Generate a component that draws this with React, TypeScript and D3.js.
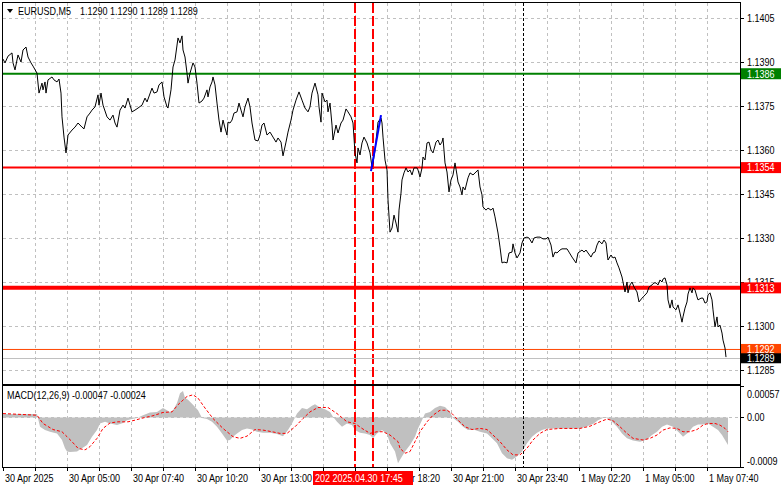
import * as d3 from "d3";

// EURUSD M5 close prices, [bar number, price], bar 0 = 30 Apr 02:20
const closes: [number, number][] = [
  [0, 1.1391], [1, 1.13897], [2.5, 1.1392], [4.5, 1.13931], [5, 1.13897], [6, 1.13873],
  [7.5, 1.13924], [9, 1.139], [10, 1.13941], [11.5, 1.13951], [12.5, 1.13917], [14, 1.13897],
  [15, 1.13886], [17, 1.13862], [18, 1.13794], [19.5, 1.13828], [20, 1.13805], [21, 1.13832],
  [21.5, 1.13794], [22.5, 1.13839], [24.5, 1.13849], [25.5, 1.13839], [27, 1.13832], [28, 1.13842],
  [29, 1.13794], [29.5, 1.13713], [30.5, 1.13644], [31.5, 1.1359], [32.5, 1.13651], [34.5, 1.13668],
  [36, 1.13678], [37.5, 1.13692], [39.5, 1.13678], [40.5, 1.13672], [42, 1.13713], [43.5, 1.13726],
  [44.5, 1.13736], [46, 1.13747], [47.5, 1.13788], [48, 1.13753], [49, 1.13794], [50, 1.13753],
  [52, 1.13713], [53.5, 1.13702], [55, 1.13719], [56, 1.13692], [57, 1.13678], [58.5, 1.13736],
  [60, 1.13753], [61, 1.13743], [62.5, 1.13777], [63.5, 1.13753], [64.5, 1.1373], [66, 1.13736],
  [67.5, 1.13743], [69.5, 1.13753], [71, 1.13777], [72, 1.13764], [74.5, 1.13811], [75.5, 1.13794],
  [77, 1.13798], [78, 1.13822], [79.5, 1.13832], [80.5, 1.13781], [82, 1.13747], [82.5, 1.13743],
  [84, 1.13805], [85, 1.13883], [86, 1.13907], [87.5, 1.13982], [88.5, 1.13965], [89.5, 1.13989],
  [90, 1.13941], [91, 1.13917], [92, 1.13862], [92.5, 1.13828], [93.5, 1.13862], [95, 1.13897],
  [96, 1.13883], [97, 1.13828], [98, 1.1376], [99.5, 1.13767], [100.5, 1.13777], [102, 1.13805],
  [102.5, 1.13781], [103.5, 1.13815], [104.5, 1.13832], [105, 1.13849], [106, 1.13822], [107, 1.1376],
  [108, 1.13702], [109, 1.13661], [110, 1.13702], [111, 1.13675], [112, 1.13651], [112.5, 1.13695],
  [113.5, 1.13692], [114.5, 1.13702], [115.5, 1.13726], [117, 1.1373], [118, 1.1376], [119, 1.13736],
  [120, 1.13713], [121, 1.13747], [122.5, 1.13777], [123.5, 1.13747], [124.5, 1.13692], [126, 1.13634],
  [127.5, 1.13631], [128.5, 1.13651], [129.5, 1.13685], [130.5, 1.13692], [132, 1.13651], [133.5, 1.13661],
  [135, 1.13644], [136.5, 1.13627], [137.5, 1.13641], [139, 1.13627], [140, 1.1358], [141.5, 1.13627],
  [142.5, 1.13661], [144, 1.13702], [145, 1.13736], [146.5, 1.1377], [148, 1.13798], [149.5, 1.1377],
  [151, 1.13743], [152.5, 1.1373], [153.5, 1.13747], [154.5, 1.13794], [156, 1.13828], [157.5, 1.13788],
  [158, 1.13747], [159, 1.13695], [159.5, 1.13794], [161, 1.13764], [162, 1.1377], [162.5, 1.1373],
  [163.5, 1.1376], [164.5, 1.13685], [165, 1.13634], [166.5, 1.13685], [167.5, 1.13658], [169, 1.13692],
  [170, 1.13702], [171.5, 1.1374], [172.5, 1.1373], [174, 1.13713], [175, 1.13692], [176, 1.1359],
  [177, 1.13556], [177.5, 1.13607], [178.5, 1.13583], [179.5, 1.13624], [180.5, 1.13644], [182, 1.13624],
  [183.5, 1.1359], [184.5, 1.13542], [185, 1.13556], [186, 1.136], [187.5, 1.13695], [189, 1.13709],
  [189.5, 1.13692], [190, 1.13644], [191, 1.13566], [192, 1.13532], [192.5, 1.1343], [193.5, 1.1332],
  [194.5, 1.13334], [195.5, 1.13378], [196.5, 1.13351], [197.5, 1.1332], [198, 1.13395], [199, 1.13453],
  [199.5, 1.13498], [200.5, 1.13522], [201.5, 1.13539], [202.5, 1.13525], [203.5, 1.13532], [204.5, 1.13515],
  [205.5, 1.13539], [207, 1.13539], [207.5, 1.13532], [208.5, 1.13508], [209.5, 1.13539], [210, 1.13576],
  [211, 1.13566], [212, 1.13624], [213, 1.13627], [214, 1.136], [215, 1.1359], [216.5, 1.13627],
  [217.5, 1.13634], [218.5, 1.13617], [219.5, 1.13627], [220, 1.13641], [221, 1.13556], [222, 1.13525],
  [223, 1.13457], [224, 1.13498], [225, 1.13515], [226, 1.13556], [227, 1.13515], [227.5, 1.13491],
  [228.5, 1.13474], [229.5, 1.13447], [230, 1.13474], [231, 1.13464], [232.5, 1.13505], [233.5, 1.13522],
  [235, 1.13515], [236.5, 1.13525], [237.5, 1.13532], [238.5, 1.13474], [239.5, 1.13447], [240, 1.13406],
  [241.5, 1.13395], [242.5, 1.13402], [244, 1.13395], [245, 1.13402], [246, 1.13372], [247.5, 1.13317],
  [248.5, 1.13269], [249.5, 1.13215], [250.5, 1.13218], [252, 1.13215], [253, 1.13249], [254.5, 1.13252],
  [255, 1.1328], [256, 1.13249], [257, 1.13232], [258.5, 1.13249], [259.5, 1.13283], [260.5, 1.133],
  [262, 1.13303], [263, 1.133], [264.5, 1.13283], [265.5, 1.133], [267, 1.13303], [268.5, 1.13303],
  [270, 1.13297], [271.5, 1.13297], [272.5, 1.13303], [274, 1.13276], [275, 1.13235], [276, 1.13252],
  [277, 1.13249], [278.5, 1.13259], [279.5, 1.13263], [282, 1.13263], [283, 1.13252], [284.5, 1.13235],
  [285.5, 1.13225], [286.5, 1.13215], [287.5, 1.13249], [289.5, 1.13259], [290.5, 1.13252], [291.5, 1.13259],
  [292.5, 1.13249], [294, 1.13235], [295, 1.13249], [296, 1.13252], [297, 1.13276], [298, 1.1329],
  [299.5, 1.1328], [300.5, 1.13293], [301.5, 1.13283], [302, 1.13252], [302.5, 1.13225], [304, 1.13242],
  [305, 1.13232], [306, 1.13235], [307, 1.13215], [308, 1.13198], [309.5, 1.13167], [310, 1.1315],
  [311, 1.13116], [312, 1.1315], [312.5, 1.13113], [313.5, 1.1314], [314.5, 1.1315], [315.5, 1.13133],
  [317, 1.13116], [318, 1.13082], [319.5, 1.13095], [320.5, 1.13102], [322, 1.13113], [323, 1.13133],
  [324.5, 1.1314], [325.5, 1.13147], [326.5, 1.13147], [327.5, 1.1314], [328.5, 1.13157], [329.5, 1.1315],
  [330, 1.1316], [331, 1.13164], [332, 1.1314], [332.5, 1.13089], [333.5, 1.13061], [334.5, 1.13089],
  [335, 1.13065], [336.5, 1.13055], [337.5, 1.13072], [338.5, 1.13044], [339.5, 1.13013], [340, 1.13031],
  [341, 1.13061], [342, 1.13082], [342.5, 1.13109], [343.5, 1.1313], [344.5, 1.13113], [345, 1.1313],
  [346, 1.13123], [347, 1.13099], [347.5, 1.13089], [349, 1.13095], [350, 1.13095], [351, 1.13078],
  [352, 1.13082], [352.5, 1.13106], [353.5, 1.13113], [354.5, 1.13089], [355, 1.13055], [356, 1.12997],
  [357, 1.13031], [357.5, 1.12997], [358.5, 1.13003], [359.5, 1.12976], [360, 1.12952], [361, 1.12925],
  [361.5, 1.12894],
];

// MACD(12,26,9) main histogram, [bar, value]
const macdHist: [number, number][] = [
  [0, 0.00006], [17, 0.00006], [18.5, -0.00017], [21, -0.00023], [23.5, -0.00026], [27, -0.00029],
  [29.5, -0.00041], [31, -0.00056], [32, -0.00062], [33.5, -0.00063], [37, -0.00062], [39.5, -0.00056],
  [42, -0.0005], [44.5, -0.00035], [47, -0.00023], [48.5, -0.00011], [51, -0.00008], [53.5, -0.00011],
  [57, -0.00014], [60, -0.0001], [62, -0.00005], [64.5, -0.00003], [67, -0.00001], [70, 0.00004],
  [73.5, 0.00009], [77, 0.0001], [80, 0.00017], [83.5, 0.0001], [85, 0.00013], [87, 0.00026],
  [88.5, 0.00044], [90, 0.00048], [91, 0.00035], [92.5, 0.00032], [95, 0.00023], [97.5, 0.00013],
  [99.5, -0.00001], [102, -0.00003], [104.5, -0.00008], [107, -0.00017], [109.5, -0.00029], [112, -0.00042],
  [113.5, -0.00041], [115, -0.00035], [117, -0.00029], [119.5, -0.00023], [122, -0.0002], [124.5, -0.00022],
  [127, -0.00026], [130, -0.00028], [133.5, -0.00028], [137, -0.0003], [140, -0.00034], [142.5, -0.00023],
  [144.5, -0.00011], [147, 0.00007], [149.5, 0.00017], [152, 0.00015], [154.5, 0.00021], [156, 0.00024],
  [158.5, 0.00018], [161, 0.00015], [163.5, 0.0001], [165, 0.00001], [167, -0.00008], [169.5, -0.00017],
  [172, -0.00011], [174.5, -0.00014], [176, -0.00023], [178.5, -0.00028], [181, -0.00029], [183.5, -0.00032],
  [185, -0.00038], [187, -0.00029], [189.5, -0.00023], [192, -0.0003], [193.5, -0.00047], [196, -0.00062],
  [197.5, -0.00083], [198.5, -0.00077], [201, -0.00062], [203.5, -0.0005], [206, -0.00035], [207.5, -0.0002],
  [209.5, -0.00005], [211, 0.00007], [213.5, 0.0001], [216, 0.00017], [218.5, 0.00021], [221, 0.00019],
  [223.5, 0.0001], [225, -0.00001], [227.5, -0.00008], [230, -0.00017], [232.5, -0.00023], [236, -0.00023],
  [238.5, -0.00026], [242, -0.00029], [244.5, -0.00038], [247, -0.00047], [249.5, -0.00065], [252, -0.00074],
  [254.5, -0.00077], [257, -0.00071], [259.5, -0.00062], [262, -0.00047], [264.5, -0.00035], [267, -0.00028],
  [269.5, -0.00023], [272, -0.0002], [282, -0.0002], [288.5, -0.0002], [292, -0.00016], [295, -0.00012],
  [297.5, -0.00005], [300, -0.00001], [302, -0.00001], [304.5, -0.00008], [307, -0.00017], [309.5, -0.00029],
  [312, -0.00038], [315, -0.00042], [318.5, -0.00044], [322, -0.0004], [324.5, -0.00032], [327, -0.00026],
  [329.5, -0.00017], [332, -0.00013], [335, -0.00017], [338.5, -0.00029], [340, -0.00035], [342.5, -0.00028],
  [345, -0.00017], [347.5, -0.00013], [350, -0.00013], [352.5, -0.00011], [355, -0.00017], [357.5, -0.00023],
  [359.5, -0.00032], [361, -0.00041], [362.5, -0.0005],
];

// MACD signal line, [bar, value]
const macdSignal: [number, number][] = [
  [0, 0.00007], [17, 0.00004], [20, -0.00011], [25, -0.00022], [29.5, -0.00026], [32, -0.00035],
  [34.5, -0.00044], [37.5, -0.00056], [41, -0.00059], [43.5, -0.00053], [47, -0.00038], [50, -0.0002],
  [53.5, -0.0001], [57.5, -0.00008], [62.5, -0.00008], [66, -0.00005], [70, -0.00001], [75, 0.00003],
  [80, 0.00009], [84.5, 0.0001], [87.5, 0.00023], [92, 0.00038], [95, 0.00041], [97.5, 0.00035],
  [101, 0.00017], [105, -0.00002], [110, -0.0002], [115, -0.00035], [118.5, -0.00038], [122, -0.00034],
  [126, -0.00022], [130, -0.00023], [134.5, -0.00026], [138.5, -0.00029], [142, -0.00029], [146, -0.00017],
  [150, -0.00002], [153.5, 0.0001], [157.5, 0.00018], [162.5, 0.00018], [167, 0.00007], [172, -0.00008],
  [176, -0.00011], [179.5, -0.0002], [183.5, -0.00029], [187, -0.00026], [190, -0.00026], [193.5, -0.00032],
  [197.5, -0.00044], [198.5, -0.00056], [201, -0.00065], [203.5, -0.00062], [206, -0.00044], [208.5, -0.00026],
  [212, -0.00008], [215, 0.00004], [218.5, 0.00013], [222, 0.00013], [224.5, 0.00007], [227.5, -0.00005],
  [231, -0.00017], [234.5, -0.00022], [238.5, -0.0002], [242, -0.00022], [245, -0.00032], [248.5, -0.00044],
  [252, -0.00059], [255, -0.00068], [258.5, -0.00068], [262, -0.00056], [265, -0.00041], [268.5, -0.00029],
  [272, -0.00022], [278.5, -0.0002], [285, -0.0002], [288.5, -0.0002], [293.5, -0.00016], [298.5, -0.00008],
  [302, -0.00003], [305, -0.00006], [308.5, -0.00017], [312, -0.00029], [315, -0.00038], [320, -0.00041],
  [323.5, -0.00038], [327, -0.00032], [330, -0.00023], [333.5, -0.00019], [337, -0.0002], [340, -0.00026],
  [343.5, -0.00026], [347, -0.00022], [350, -0.00014], [352.5, -0.00011], [356, -0.00011], [358.5, -0.00014],
  [361, -0.0002], [362.5, -0.00026],
];

const priceTicks = [1.1405, 1.139, 1.1375, 1.136, 1.1345, 1.133, 1.1315, 1.13, 1.1285];
const macdTicks = [0.00057, 0, -0.0009];
const macdTickLabels = ["0.00057", "0.00", "-0.0009"];
const timeLabels = [
  "30 Apr 2025", "30 Apr 05:00", "30 Apr 07:40", "30 Apr 10:20", "30 Apr 13:00", "30 Apr 15:40",
  "30 Apr 18:20", "30 Apr 21:00", "30 Apr 23:40", "1 May 02:20", "1 May 05:00", "1 May 07:40",
];
const labelEvery = 32; // bars between time labels
const gridEvery = 16;

const levelPrices = [1.1386, 1.1354, 1.1313, 1.1292];
const levelColors = ["#008000", "#ff0000", "#ff0000", "#ff4500"];
const levelWidths = [2, 2, 4, 1];
const bidPrice = 1.1289;

const markerBars = [176, 185];
const markerLabel = "202 2025.04.30 17:45";
const daySeparatorBar = 260;
const trendBars = [184, 189];
const trendPrices = [1.13528, 1.13719];

const header = "EURUSD,M5";
const headerQuotes = "1.1290 1.1290 1.1289 1.1289";
const macdTitle = "MACD(12,26,9) -0.00047 -0.00024";

const W = 781;
const H = 489;
const left = 3;
const right = 740;
const mainTop = 3;
const mainBottom = 384;
const macdTop = 386;
const macdBottom = 467;
const FONT = "'Liberation Sans', Arial, sans-serif";
const NARROW = 0.82; // squeeze to a narrow face, like the terminal font

function Label({
  x,
  y,
  fill = "#000",
  children,
}: {
  x: number;
  y: number;
  fill?: string;
  children: React.ReactNode;
}) {
  return (
    <text
      transform={`translate(${x},${y}) scale(${NARROW},1)`}
      dominantBaseline="central"
      fill={fill}
    >
      {children}
    </text>
  );
}

export default function App() {
  const x = d3.scaleLinear().domain([0, 368.5]).range([left, right]);
  const y = d3.scaleLinear().domain([1.1285, 1.1405]).range([370, 18]);
  const yM = d3.scaleLinear().domain([-0.0009, 0.00057]).range([macdBottom, macdTop]);

  const priceLine = d3
    .line<[number, number]>()
    .x((d) => x(d[0]))
    .y((d) => y(d[1]));

  const histArea = d3
    .area<[number, number]>()
    .x((d) => x(d[0]))
    .y0(yM(0))
    .y1((d) => yM(d[1]));

  const signalLine = d3
    .line<[number, number]>()
    .x((d) => x(d[0]))
    .y((d) => yM(d[1]));

  const gridBars = d3.range(gridEvery, 368, gridEvery);
  const grey = "#c0c0c0";
  const snap = (v: number) => Math.round(v) + 0.5;

  return (
    <svg
      width={W}
      height={H}
      style={{ position: "absolute", left: 0, top: 0, background: "#fff" }}
      fontFamily={FONT}
      fontSize={11}
    >
      <defs>
        <clipPath id="main-clip">
          <rect x={left} y={mainTop} width={right - left} height={mainBottom - mainTop} />
        </clipPath>
        <clipPath id="macd-clip">
          <rect x={left} y={macdTop} width={right - left} height={macdBottom - macdTop} />
        </clipPath>
      </defs>
      <rect width={W} height={H} fill="#fff" />

      {/* grid */}
      <g stroke={grey} strokeDasharray="3,3" strokeWidth={1}>
        {gridBars.map((b) => (
          <g key={b}>
            <line x1={snap(x(b))} x2={snap(x(b))} y1={mainTop} y2={mainBottom} />
            <line x1={snap(x(b))} x2={snap(x(b))} y1={macdTop} y2={macdBottom} />
          </g>
        ))}
        {priceTicks.map((p) => (
          <line key={p} x1={left} x2={right} y1={snap(y(p))} y2={snap(y(p))} />
        ))}
        <line x1={left} x2={right} y1={snap(yM(0))} y2={snap(yM(0))} />
      </g>

      {/* MACD */}
      <g clipPath="url(#macd-clip)">
        <path d={histArea(macdHist) ?? ""} fill={grey} />
        <path
          d={signalLine(macdSignal) ?? ""}
          fill="none"
          stroke="#ff0000"
          strokeWidth={1}
          strokeDasharray="3,2"
        />
      </g>

      {/* vertical markers */}
      {markerBars.map((b) => (
        <g key={b} stroke="#ff0000" strokeWidth={2} strokeDasharray="10,3">
          <line x1={Math.round(x(b))} x2={Math.round(x(b))} y1={mainTop} y2={mainBottom} />
          <line x1={Math.round(x(b))} x2={Math.round(x(b))} y1={macdTop} y2={macdBottom} />
        </g>
      ))}
      <g stroke="#000" strokeWidth={1} strokeDasharray="3,2">
        <line x1={snap(x(daySeparatorBar))} x2={snap(x(daySeparatorBar))} y1={mainTop} y2={mainBottom} />
        <line x1={snap(x(daySeparatorBar))} x2={snap(x(daySeparatorBar))} y1={macdTop} y2={macdBottom} />
      </g>

      {/* main panel */}
      <g clipPath="url(#main-clip)">
        <line x1={left} x2={right} y1={snap(y(bidPrice))} y2={snap(y(bidPrice))} stroke={grey} strokeWidth={1} />
        {levelPrices.map((p, i) => (
          <line
            key={p}
            x1={left}
            x2={right}
            y1={y(p)}
            y2={y(p)}
            stroke={levelColors[i]}
            strokeWidth={levelWidths[i]}
          />
        ))}
        <path d={priceLine(closes) ?? ""} fill="none" stroke="#000" strokeWidth={1} />
        <line
          x1={x(trendBars[0])}
          x2={x(trendBars[1])}
          y1={y(trendPrices[0])}
          y2={y(trendPrices[1])}
          stroke="#0000ff"
          strokeWidth={2}
        />
      </g>

      {/* frames */}
      <g fill="none" stroke="#000" strokeWidth={1}>
        <rect x={left - 0.5} y={mainTop - 0.5} width={right - left + 1} height={mainBottom - mainTop + 1} />
        <rect x={left - 0.5} y={macdTop - 0.5} width={right - left + 1} height={macdBottom - macdTop + 1} />
      </g>

      {/* header */}
      <polygon points="7,9 13,9 10,13" fill="#000" />
      <Label x={18} y={11}>{header}</Label>
      <Label x={80} y={11}>{headerQuotes}</Label>
      <Label x={7} y={395}>{macdTitle}</Label>

      {/* price axis */}
      {priceTicks.map((p) => (
        <g key={p}>
          <line x1={right} x2={right + 4} y1={snap(y(p))} y2={snap(y(p))} stroke="#000" />
          <Label x={747} y={y(p)}>{p.toFixed(4)}</Label>
        </g>
      ))}
      {levelPrices.map((p, i) => (
        <g key={p}>
          <rect x={741} y={y(p) - 5.5} width={40} height={11} fill={levelColors[i]} />
          <Label x={747} y={y(p)} fill="#fff">{p.toFixed(4)}</Label>
        </g>
      ))}
      <rect x={741} y={y(bidPrice) - 5} width={40} height={10} fill="#000" />
      <Label x={747} y={y(bidPrice)} fill="#fff">{bidPrice.toFixed(4)}</Label>

      {/* MACD axis */}
      {macdTicks.map((v, i) => (
        <g key={v}>
          <line x1={right} x2={right + 4} y1={snap(yM(v))} y2={snap(yM(v))} stroke="#000" />
          <Label x={747} y={i === 0 ? yM(v) + 8 : i === 2 ? yM(v) - 6 : yM(v)}>
            {macdTickLabels[i]}
          </Label>
        </g>
      ))}

      {/* time axis */}
      {gridBars.concat([0]).map((b) => (
        <line key={b} x1={snap(x(b))} x2={snap(x(b))} y1={macdBottom} y2={macdBottom + 4} stroke="#000" />
      ))}
      {timeLabels.map((t, i) => (
        <Label key={t} x={x(i * labelEvery) + 2} y={478}>
          {t}
        </Label>
      ))}
      <rect x={313} y={471} width={100} height={14} fill="#ff0000" />
      <Label x={315} y={478} fill="#fff">{markerLabel}</Label>
    </svg>
  );
}
